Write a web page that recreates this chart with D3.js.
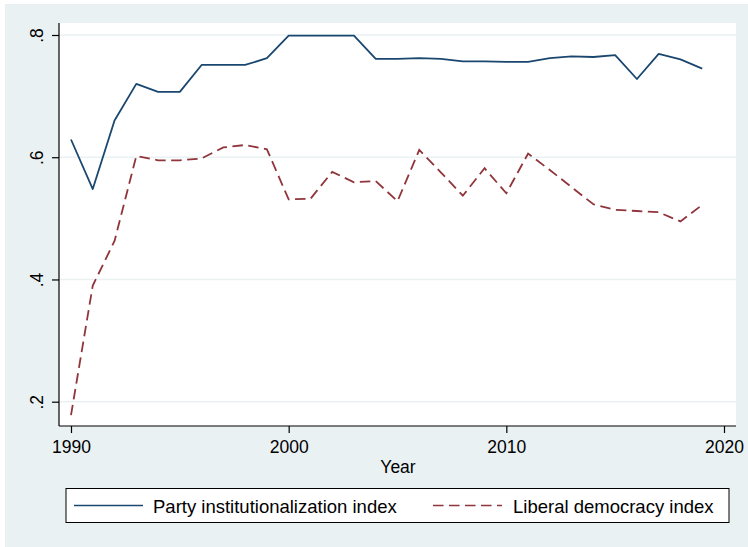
<!DOCTYPE html>
<html><head><meta charset="utf-8">
<script src="https://cdn.jsdelivr.net/npm/d3@7"></script>
<style>html,body{margin:0;padding:0;background:#fff;}svg{display:block;font-family:"Liberation Sans",Arial,Helvetica,sans-serif;}</style>
</head><body>
<script>
const years = d3.range(1990, 2020);
const partyInst = [0.629,0.548,0.660,0.720,0.707,0.707,0.751,0.751,0.751,0.762,
  0.799,0.799,0.799,0.799,0.761,0.761,0.762,0.761,0.757,0.757,
  0.756,0.756,0.762,0.765,0.764,0.767,0.728,0.769,0.760,0.745];
const libDem = [0.178,0.390,0.463,0.602,0.595,0.595,0.598,0.616,0.620,0.613,
  0.531,0.532,0.576,0.559,0.561,0.528,0.612,0.575,0.537,0.582,
  0.541,0.606,0.579,0.551,0.523,0.514,0.512,0.510,0.495,0.522];
const yTicks = [0.2,0.4,0.6,0.8];
const yTickLabels = [".2",".4",".6",".8"];
const xTicks = [1990,2000,2010,2020];
const seriesNames = ["Party institutionalization index","Liberal democracy index"];

const W=748,H=547;
const svg=d3.select("body").append("svg").attr("width",W).attr("height",H);
const bg="#eaf1f3", navy="#1a476f", maroon="#90353b";
svg.append("rect").attr("x",5).attr("y",4).attr("width",W-5).attr("height",H-4).attr("fill",bg);

const pl=59, pr=736, pt=23, pb=426;
svg.append("rect").attr("x",pl).attr("y",pt).attr("width",pr-pl).attr("height",pb-pt).attr("fill","#fff");

const x=d3.scaleLinear().domain([1990,2020]).range([71,724]);
const y=d3.scaleLinear().domain([0.2,0.8]).range([401.7,35]);

// gridlines
svg.append("g").selectAll("line").data(yTicks).join("line")
  .attr("x1",pl).attr("x2",pr).attr("y1",d=>y(d)).attr("y2",d=>y(d))
  .attr("stroke",bg).attr("stroke-width",1.5);

const fs=17.5, lfs=18.5;
// y axis
const yAxis=d3.axisLeft(y).tickValues(yTicks).tickSize(7).tickFormat((d,i)=>yTickLabels[i]);
const gy=svg.append("g").attr("transform",`translate(${pl},0)`).call(yAxis);
gy.select(".domain").attr("d",`M0,${pt}V${pb}`).attr("stroke","#000").attr("stroke-width",1.2);
gy.selectAll(".tick line").attr("stroke","#000").attr("stroke-width",1.2);
gy.selectAll(".tick text").attr("font-size",fs).attr("fill","#000")
  .attr("x",null).attr("dy",null).attr("text-anchor","middle")
  .attr("transform","translate(-16,0) rotate(-90)").attr("y",0);

// x axis
const xAxis=d3.axisBottom(x).tickValues(xTicks).tickSize(7).tickFormat(d3.format("d"));
const gx=svg.append("g").attr("transform",`translate(0,${pb})`).call(xAxis);
gx.select(".domain").attr("d",`M${pl},0H${pr}`).attr("stroke","#000").attr("stroke-width",1.2);
gx.selectAll(".tick line").attr("stroke","#000").attr("stroke-width",1.2);
gx.selectAll(".tick text").attr("font-size",fs).attr("fill","#000").attr("dy",null).attr("y",26.5);
gx.attr("font-family",null); gy.attr("font-family",null);

svg.append("text").attr("x",398).attr("y",473).attr("text-anchor","middle")
  .attr("font-size",fs).attr("fill","#000").text("Year");

// lines
const line=(vals)=>d3.line().x((d,i)=>x(years[i])).y(d=>y(d))(vals);
svg.append("path").attr("d",line(partyInst)).attr("fill","none").attr("stroke",navy).attr("stroke-width",1.8).attr("stroke-linejoin","round");
svg.append("path").attr("d",line(libDem)).attr("fill","none").attr("stroke",maroon).attr("stroke-width",1.8).attr("stroke-dasharray","10.5,5.5");

// legend
svg.append("rect").attr("x",66).attr("y",488.5).attr("width",663).attr("height",34).attr("fill","#fff").attr("stroke","#000").attr("stroke-width",1);
svg.append("line").attr("x1",74).attr("x2",143).attr("y1",505.5).attr("y2",505.5).attr("stroke",navy).attr("stroke-width",1.5);
svg.append("text").attr("x",153).attr("y",512.5).attr("font-size",lfs).attr("fill","#000").text(seriesNames[0]);
svg.append("line").attr("x1",433).attr("x2",502).attr("y1",505.5).attr("y2",505.5).attr("stroke",maroon).attr("stroke-width",1.5).attr("stroke-dasharray","10.5,5.5");
svg.append("text").attr("x",513).attr("y",512.5).attr("font-size",lfs).attr("fill","#000").text(seriesNames[1]);
</script>
</body></html>
